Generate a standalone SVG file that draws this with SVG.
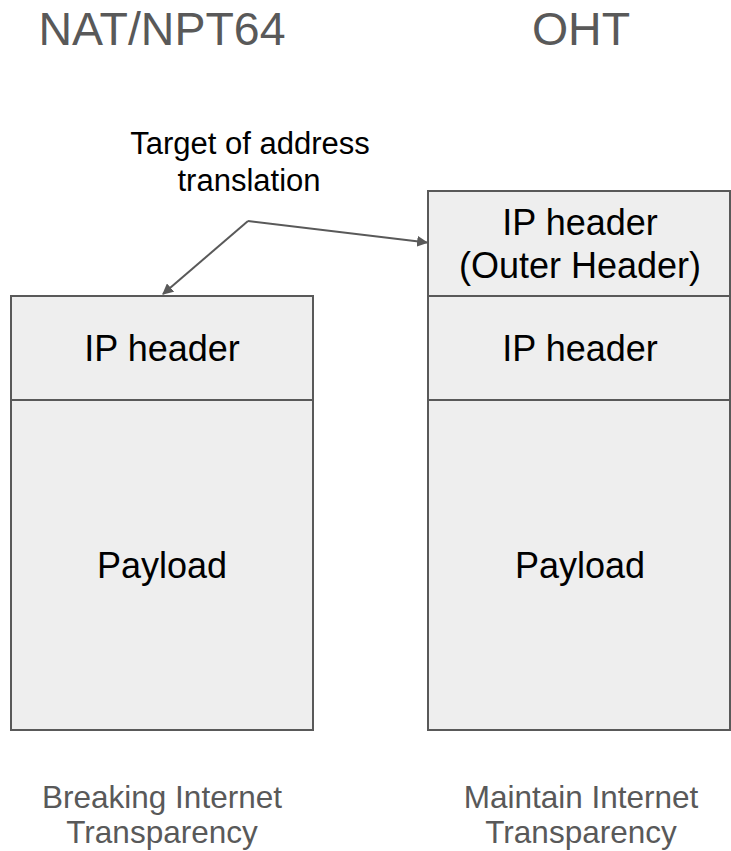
<svg xmlns="http://www.w3.org/2000/svg" width="731" height="851" viewBox="0 0 731 851">
<style>
.box{fill:#eeeeee;stroke:#595959;stroke-width:2}
.div{stroke:#595959;stroke-width:2}
.t{font-family:"Liberation Sans",Arial,sans-serif;text-anchor:middle}
.title{font-size:46.5px;fill:#595959}
.lbl{font-size:36px;fill:#000}
.cap{font-size:31.5px;fill:#595959}
.note{font-size:31px;fill:#000}
.conn{stroke:#595959;stroke-width:2;fill:none;marker-end:url(#ah)}
</style>
<defs>
<marker id="ah" viewBox="0 0 10 10" refX="9" refY="5" markerWidth="5.5" markerHeight="5.5" orient="auto" markerUnits="strokeWidth">
<path d="M0,0 L10,5 L0,10 z" fill="#595959"/>
</marker>
</defs>
<rect width="731" height="851" fill="#ffffff"/>
<g id="title-nat"><text class="t title" x="162" y="45">NAT/NPT64</text></g>
<g id="title-oht"><text class="t title" x="581" y="45">OHT</text></g>
<g id="note"><text class="t note" y="154"><tspan x="250">Target of address</tspan><tspan x="249" dy="37">translation</tspan></text></g>
<g id="nat-packet">
<rect class="box" x="11" y="296" width="302" height="434"/>
<line class="div" x1="11" y1="400" x2="313" y2="400"/>
<text class="t lbl" x="162" y="361">IP header</text>
<text class="t lbl" x="162" y="578">Payload</text>
</g>
<g id="oht-packet">
<rect class="box" x="428" y="191" width="302" height="539"/>
<line class="div" x1="428" y1="296" x2="730" y2="296"/>
<line class="div" x1="428" y1="400" x2="730" y2="400"/>
<text class="t lbl" y="235"><tspan x="580">IP header</tspan><tspan x="580" dy="43">(Outer Header)</tspan></text>
<text class="t lbl" x="580" y="361">IP header</text>
<text class="t lbl" x="580" y="578">Payload</text>
</g>
<g id="cap-nat"><text class="t cap" y="808"><tspan x="162">Breaking Internet</tspan><tspan x="162" dy="35">Transparency</tspan></text></g>
<g id="cap-oht"><text class="t cap" y="808"><tspan x="581">Maintain Internet</tspan><tspan x="581" dy="35">Transparency</tspan></text></g>
<g id="connectors">
<polyline class="conn" points="248,221 163,294"/>
<polyline class="conn" points="248,221 427,242.5"/>
</g>
</svg>
